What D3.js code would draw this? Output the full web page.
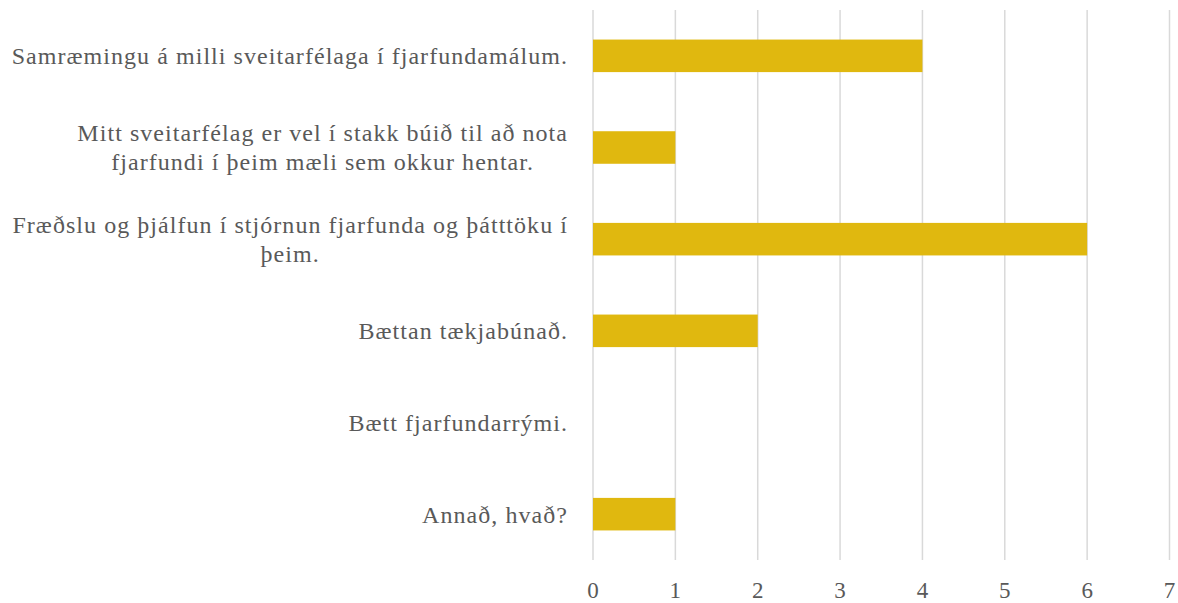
<!DOCTYPE html>
<html>
<head>
<meta charset="utf-8">
<script src="https://cdn.jsdelivr.net/npm/d3@7"></script>
<style>
  body { margin: 0; background: #fff; }
  text { font-family: "Palatino Linotype", "Book Antiqua", Palatino, "Liberation Serif", serif; fill: #595959; }
</style>
</head>
<body>
<div id="chart"></div>
<script>
// categories as shown, top to bottom, with the label line breaks
let categories = [
  'Samræmingu á milli sveitarfélaga í fjarfundamálum.',
  'Mitt sveitarfélag er vel í stakk búið til að nota fjarfundi í þeim mæli sem okkur hentar.',
  'Fræðslu og þjálfun í stjórnun fjarfunda og þátttöku í þeim.',
  'Bættan tækjabúnað.',
  'Bætt fjarfundarrými.',
  'Annað, hvað?'
]
let labelLines = [
  ['Samræmingu á milli sveitarfélaga í fjarfundamálum.'],
  ['Mitt sveitarfélag er vel í stakk búið til að nota', 'fjarfundi í þeim mæli sem okkur hentar.'],
  ['Fræðslu og þjálfun í stjórnun fjarfunda og þátttöku í', 'þeim.'],
  ['Bættan tækjabúnað.'],
  ['Bætt fjarfundarrými.'],
  ['Annað, hvað?']
]
let values = [4, 1, 6, 2, 0, 1]
let xTicks = [0, 1, 2, 3, 4, 5, 6, 7]

let width = 1178,
  height = 603

let svg = d3.select('#chart')
  .append('svg')
  .attr('width', width)
  .attr('height', height)

let x = d3.scaleLinear()
  .domain([0, 7])
  .range([593, 1169.5])

let y = d3.scaleBand()
  .domain(categories)
  .range([10, 560])
  .paddingInner(0.645)
  .paddingOuter(0.3225)

// vertical gridlines
svg.selectAll('.grid')
  .data(xTicks)
  .enter()
  .append('line')
  .attr('class', 'grid')
  .attr('x1', (d) => x(d))
  .attr('x2', (d) => x(d))
  .attr('y1', 10)
  .attr('y2', 560)
  .attr('stroke', '#d9d9d9')
  .attr('stroke-width', 1.5)

svg.selectAll('.bar')
  .data(values)
  .enter()
  .append('rect')
  .attr('class', 'bar')
  .attr('x', x(0))
  .attr('y', (d, i) => y(categories[i]))
  .attr('width', (d) => x(d) - x(0))
  .attr('height', y.bandwidth())
  .attr('fill', '#e0b80f')

// x tick labels
svg.selectAll('.tick-label')
  .data(xTicks)
  .enter()
  .append('text')
  .attr('class', 'tick-label')
  .attr('x', (d) => x(d))
  .attr('y', 598)
  .attr('text-anchor', 'middle')
  .style('font-size', '23px')
  .text((d) => d)

// category labels: block right-aligned, lines centred within block
let lineHeight = 29
let labelRight = 568
categories.forEach(function(cat, i) {
  let lines = labelLines[i]
  let cy = y(cat) + y.bandwidth() / 2
  let g = svg.append('g')
  let texts = g.selectAll('text')
    .data(lines)
    .enter()
    .append('text')
    .attr('y', (d, j) => cy + (j - (lines.length - 1) / 2) * lineHeight)
    .attr('dy', '0.35em')
    .attr('text-anchor', 'middle')
    .style('font-size', '24px')
    .style('letter-spacing', '1.05px')
    .text((d) => d)
  let maxW = d3.max(texts.nodes(), (n) => n.getBBox().width)
  texts.attr('x', labelRight - maxW / 2)
})
</script>
</body>
</html>
